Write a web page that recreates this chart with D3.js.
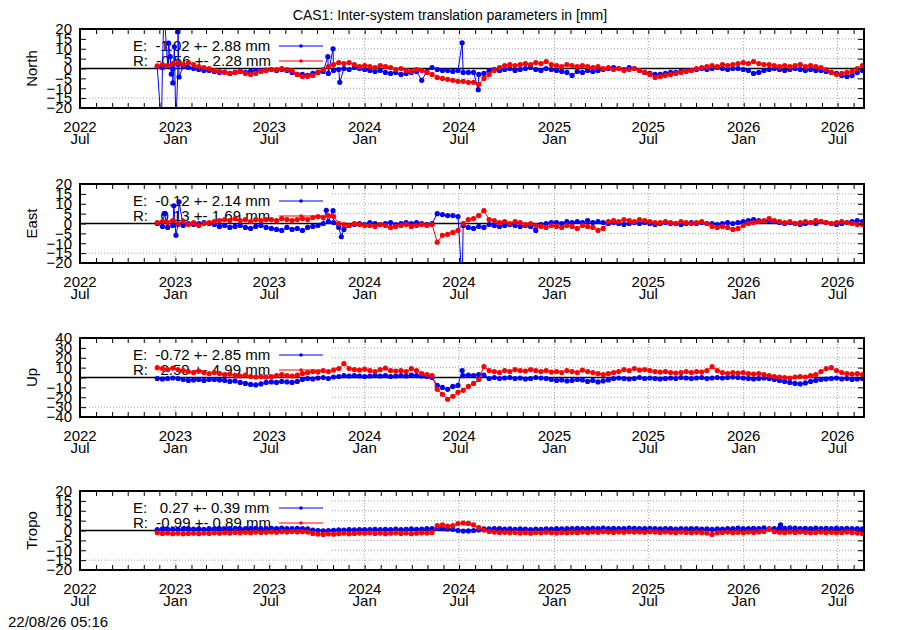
<!DOCTYPE html>
<html>
<head>
<meta charset="utf-8">
<script src="https://cdn.jsdelivr.net/npm/d3@7"></script>
<style>
  body { margin: 0; background: #fff; }
  svg { font-family: "Liberation Sans", Arial, sans-serif; }
  text { white-space: pre; }
</style>
</head>
<body>
<div id="chart"></div>
<script>
// one sample every 10 days starting 2022-11-27
const northE = [
  1, 0.5, 1.5, 0, 2, 1, 0.5, 0, -0.5, -1,
  -1, -1.5, -2, -1.8, -2.5, -2, -1.5, -2, -1.5, -1,
  -1.2, -0.8, -0.5, -1, -0.5, -1, -2, -3, -3, -3.5,
  -2.5, -2, -1.5, -2.5, -1, -0.5, 0, -0.5, 0.5, 0,
  -0.5, -1, -1.5, -1, -2, -2.5, -2, -3, -2.5, -2,
  -1.5, -6, -1.5, 0.5, -0.5, -1, -1, -1.5, -1, -2,
  -2, -2, -3, -2.5, -1, -0.5, -1, -0.5, 0, -1,
  -0.5, 0, 0.5, -0.5, -1, 0, -0.5, -1, -1.5, -2,
  -3.5, -1.5, -2, -1, -1.5, -1, -0.5, 0, 0.5, 0,
  -0.5, 0.5, 0, -1, -2, -2.5, -3, -3, -2.5, -2,
  -2, -1.5, -1, -1, -0.5, 0, -0.5, 0, 0.5, 0,
  -0.5, 0, 0, -0.5, -1, -2.5, -2, -1, -0.5, 0,
  -0.5, -1, -0.5, 0, -0.5, -1, -0.5, -1, -1, -1.5,
  -2, -2.5, -3.5, -4, -3.5, -2, -1
];
const northR = [
  1.3, 2, 1.5, 2.5, 3, 2, 3, 2, 1, 0.5,
  0, -1, -1.5, -2, -2.5, -2, -1.5, -2.5, -3, -2.5,
  -1.5, -1, -0.5, -0.5, 0, -0.5, -1, -3, -4, -4,
  -3.5, -2, -0.5, 1, 2, 3, 2.5, 3, 2, 1,
  1.5, 1, 0.5, 1.5, 1, 0.5, -0.5, 0, -1, -1.5,
  -0.5, -1, -2, -3, -4.5, -5, -5.5, -6, -6.5, -6.5,
  -7, -7, -8, -5, -3, -1, 0.5, 1.5, 2, 1.5,
  2, 2.5, 2, 3, 2.5, 3.5, 2, 1.5, 1, 2,
  1.5, 1, 1.5, 1, 0.5, 1, 0, 0.5, -0.5, 0,
  -1, -0.5, 0, -1, -2, -3, -4.5, -4, -3.5, -3,
  -2.5, -2, -1.5, -1, 0, 0.5, 1, 1.5, 1, 2,
  1.5, 2, 2.5, 3, 2.5, 3.5, 2.5, 2, 2, 1.5,
  1, 1.5, 1, 1.5, 2, 1, 1.5, 1, 0.5, -0.5,
  -2, -3, -2.5, -2, -1.5, 0, 1.5
];
const northESpikes = [
  ['2022-12-05', -30], ['2022-12-10', 30], ['2022-12-19', 12.8], ['2022-12-22', 6],
  ['2022-12-24', -2.8], ['2022-12-27', -7.3], ['2022-12-30', 11], ['2023-01-02', -30],
  ['2023-01-06', 18.6], ['2023-01-08', -4.3], ['2023-10-22', 6], ['2023-11-01', 10],
  ['2023-11-14', -7], ['2024-07-07', 13], ['2024-08-07', -10.7]
];
const eastE = [
  0, -1.5, -2, -1, -0.5, -1, 0, -0.5, 0, 0.5,
  0, -0.5, -1.5, -1, -2, -1.5, -1, -2, -2.5, -1.5,
  -1, -2, -2.5, -3, -3.5, -2, -3, -2.5, -3.5, -2,
  -1.5, -1, 0, 1, 0.5, -2, -3, -1, -0.5, 0,
  -0.5, 0.5, 0, -0.5, 0, 0.5, -0.5, 0, 0.5, 0,
  0.5, 0, -0.5, 0, 5, 4.5, 4, 4, 3.5, -1,
  -2, -2.5, -1.5, -2, -0.5, -1, -1.5, -1, -0.5, -1,
  -1.5, -1, -1.5, -3.5, -0.5, 0, 0.5, 0.5, 0, 1,
  0.5, 1, 0.5, 1.5, 0.5, 1, 0.5, 0, 0.5, 0,
  -0.5, 0, 0.5, 0, 0.5, 0, -0.5, 0, 0.5, 0,
  0, -0.5, 0, 0.5, 0, 0.5, 0, 0, -0.5, 0,
  0.5, 0, 0.5, 1, 1.5, 2, 1.5, 1, 1.5, 1,
  0.5, 0, 0.5, 0, -0.5, 0, 0.5, 0, 1, 0.5,
  0, -0.5, 0, 0.5, 1, 1.5, 1
];
const eastR = [
  0.5, 1, 0.5, 1.5, 0, 1, -0.5, 0.5, -1, 0,
  0.5, 1, 1.5, 2, 1.5, 2.5, 1.5, 2, 1, 2,
  1.5, 2, 2, 1.5, 2.5, 2, 1.5, 2, 2.5, 2,
  3, 3.5, 3, 4, 3.5, 0, -0.5, -1, 0, -0.5,
  -1, -1, -1.5, -0.5, -1, -2, -1.5, -1, -0.5, -1.5,
  -1, -0.5, -1, -0.5, -9.5, -6, -5.5, -4.5, -3.5, 0,
  2, 2.5, 4, 6.5, 2, 1.5, 0.5, 1, 0, 1,
  0.5, -0.5, 0, -1, -1.5, -2, -1, -1.5, -2, -1,
  -1.5, -2.5, -1, -1.5, -2, -3.5, -2.5, 1, 1.5, 1,
  2, 1.5, 1, 2, 1.5, 1, 0.5, 0.5, 1, 0.5,
  0, 1, 0.5, 0, 0.5, 1, 0, -1.5, -2, -1.5,
  -2, -3, -2.5, -1, 0, 0.5, 1, 1.5, 2.5, 1.5,
  1, 0.5, 1, 0, 0.5, 1, 0.5, 1.5, 1, 0.5,
  0, 0.5, 1, 0.5, 0, -0.5, -0.5
];
const eastESpikes = [
  ['2022-12-11', 5], ['2022-12-29', 9], ['2023-01-02', -6], ['2023-01-08', 11],
  ['2023-10-19', 6.7], ['2023-11-01', 6.5], ['2023-11-17', -6.7], ['2024-07-07', -30]
];
const upE = [
  -1, -1.5, -1, -0.5, -1, -2, -3, -2.5, -2, -3,
  -2, -2, -2.5, -3, -4, -3.5, -5, -6, -7, -7.5,
  -6.5, -5, -4.5, -5, -4, -4.5, -5, -4, -2, -1,
  -1.5, -0.5, 0, -1, 0.5, 1, 2, 1.5, 2, 1.5,
  1, 1.5, 2, 1.5, 2, 1, 1.5, 2, 1.5, 2.5,
  2, 1.5, 1, 0, -8, -10, -12, -9, -8, 2,
  2.5, 2, 3, 2.5, -1, 0, -1, -0.5, 0, -1,
  -0.5, -1.5, -1, 0, -0.5, -1, -2, -3, -2.5, -3.5,
  -3, -2, -2.5, -4, -3, -4.5, -3.5, -2.5, -1, -0.5,
  -1, -1.5, -1, 0, -1, -0.5, -1, -1.5, -1, -0.5,
  -1, 0, -0.5, -1, -0.5, 0, -1, -0.5, 0, -0.5,
  0, 0.5, 0, -0.5, -1, -1.5, -1, -0.5, -1, -2,
  -3, -4, -5, -6, -6.5, -5.5, -4, -3, -2, -1.5,
  -1, -0.5, -1.5, -1, -2, -1.5, -1
];
const upR = [
  10, 9, 8, 9.5, 8, 7, 6, 5, 6.5, 5,
  4, 5, 4, 3, 3.5, 2, 1.5, 2.5, 1, 0.5,
  1, 0.5, 1, 2, 3, 2, 1.5, 2.5, 4, 5,
  6, 5.5, 7, 6, 7.5, 9, 14, 9, 8, 7.5,
  8.5, 7, 6, 8, 9.5, 7, 6.5, 7, 6, 9,
  7, 4, 3, 2, -12, -17, -22, -19, -15, -13,
  -9, -6, -2, 11, 7, 6, 5, 7, 6, 8,
  7, 6.5, 8, 7, 6, 7, 5.5, 6, 5, 7,
  6, 5, 7.5, 6, 5, 4, 3, 4, 5, 6,
  8, 7, 9, 7.5, 8, 7, 6, 5.5, 6, 5,
  4.5, 5, 6, 5, 6, 5.5, 7, 11, 7, 5,
  4, 5, 4.5, 5, 4, 3.5, 4, 3, 2, 1,
  0.5, 0, -0.5, 0.5, 1, 0.5, 2, 3, 6, 9,
  10, 7, 5, 4, 3.5, 4, 3
];
const upESpikes = [['2024-07-07', 7]];
const tropoE = [
  0.5, 0.8, 0.6, 0.7, 0.5, 0.8, 0.9, 0.7, 0.8, 0.6,
  0.9, 0.8, 1, 0.8, 0.9, 1, 0.8, 1, 0.9, 1.1,
  1, 0.9, 1.1, 1, 1.2, 1, 0.9, 1.1, 1, 0.8,
  0.2, 0, -0.2, 0, 0.1, 0.3, 0.2, 0.4, 0.3, 0.5,
  0.4, 0.5, 0.6, 0.4, 0.6, 0.5, 0.7, 0.5, 0.6, 0.8,
  0.6, 0.7, 0.9, 1, 1.2, 1, 0.8, 0.6, 0, -0.3,
  -0.2, 0, 0.3, 0.8, 0.8, 1, 0.9, 0.7, 0.8, 0.6,
  0.8, 0.7, 0.5, 0.7, 0.6, 0.8, 0.7, 0.9, 0.8, 1,
  0.9, 1.1, 0.9, 1, 1.1, 1, 1.2, 1, 1.1, 0.9,
  1, 1.2, 1.1, 1, 0.9, 1.1, 1, 0.8, 1, 0.9,
  0.7, 0.9, 0.8, 1, 0.9, 0.7, 0.8, 0.6, 0.8, 0.7,
  0.9, 1, 1.2, 1, 0.9, 1.1, 1, 1.3, 0.8, 1,
  1.2, 1.1, 1.3, 1.2, 1, 1.1, 0.9, 1.2, 1, 1.1,
  0.9, 1.2, 1, 1.1, 0.9, 1, 0.8
];
const tropoR = [
  -1.2, -1.5, -1.3, -1.6, -1.4, -1.7, -1.5, -1.4, -1.6, -1.3,
  -1.5, -1.2, -1.4, -1.1, -1.3, -1, -1.2, -0.9, -1.1, -0.8,
  -1, -0.9, -0.7, -0.9, -0.6, -0.8, -0.5, -0.7, -0.6, -0.8,
  -1.5, -1.8, -2, -1.7, -1.9, -1.6, -1.4, -1.7, -1.5, -1.3,
  -1.4, -1.2, -1.5, -1.3, -1.6, -1.4, -1.2, -1.5, -1.3, -1.6,
  -1.4, -1.2, -1.3, -1, 2.5, 2.8, 2.2, 2.5, 3.5, 3.8,
  3.6, 2.8, 1.5, 0.2, -0.5, -0.8, -1, -0.9, -1.2, -1,
  -1.3, -1.1, -1.4, -1, -1.2, -0.9, -1.1, -1.3, -1, -1.2,
  -0.9, -1.1, -0.8, -1, -0.7, -0.9, -0.6, -0.8, -1, -0.7,
  -0.9, -0.6, -0.8, -0.7, -0.9, -0.6, -0.8, -1, -0.7, -0.9,
  -1.1, -0.8, -1, -1.2, -0.9, -1.1, -1.3, -2, -1.2, -1,
  -0.8, -1.1, -0.9, -1.2, -0.8, -1, -0.7, -0.5, 0.8, -0.6,
  -0.9, -1.1, -0.8, -1, -0.7, -0.9, -1.2, -1, -0.8, -1.1,
  -0.9, -1.2, -1, -0.8, -1.1, -1.3, -1.5
];
const tropoESpikes = [['2026-03-13', 2.9]];

const panelNames = ['North', 'East', 'Up', 'Tropo'];
const panelLimits = [20, 20, 40, 20];
const panelSteps = [5, 5, 10, 5];
const statsE = [[-1.02, 2.88], [-0.12, 2.14], [-0.72, 2.85], [0.27, 0.39]];
const statsR = [[-0.56, 2.28], [0.13, 1.69], [2.59, 4.99], [-0.99, 0.89]];
const seriesE = [northE, eastE, upE, tropoE];
const seriesR = [northR, eastR, upR, tropoR];
const spikesE = [northESpikes, eastESpikes, upESpikes, tropoESpikes];

const width = 900, height = 630;
const left = 80, right = 864, panelH = 79;
const panelTops = [29, 184, 338, 491];
const start = Date.UTC(2022, 10, 27);
const blue = '#0000ff', red = '#ff0000';

const x = d3.scaleUtc()
  .domain([new Date(Date.UTC(2022, 6, 1)), new Date(Date.UTC(2026, 7, 21))])
  .range([left, right]);
const months = d3.utcMonth.range(x.domain()[0], x.domain()[1]);
const majors = months.filter(d => d.getUTCMonth() % 6 === 0);

function toPoints(vals, spikes) {
  const pts = vals.map((v, i) => ({ date: new Date(start + i * 10 * 864e5), value: v }));
  (spikes || []).forEach(s => pts.push({ date: new Date(s[0] + 'T00:00:00Z'), value: s[1] }));
  return pts.sort((a, b) => a.date - b.date);
}

const svg = d3.select('#chart').append('svg')
  .attr('width', width).attr('height', height);

svg.append('text')
  .attr('x', 450).attr('y', 20)
  .attr('text-anchor', 'middle')
  .attr('font-size', 14)
  .text('CAS1: Inter-system translation parameters in [mm]');

svg.append('text')
  .attr('x', 8).attr('y', 627)
  .attr('font-size', 15)
  .text('22/08/26 05:16');

function fmt(v) {
  const s = v.toFixed(2);
  return ' '.repeat(Math.max(0, 6 - s.length)) + s;
}

panelNames.forEach((name, k) => {
  const top = panelTops[k], bottom = top + panelH;
  const lim = panelLimits[k], step = panelSteps[k];
  const y = d3.scaleLinear().domain([-lim, lim]).range([bottom, top]);
  const yTicks = d3.range(-lim, lim + step / 2, step);
  const g = svg.append('g');

  g.append('clipPath').attr('id', 'clip' + k)
    .append('rect').attr('x', left).attr('y', top).attr('width', right - left).attr('height', panelH);

  // grid
  g.selectAll('.hgrid').data(yTicks.filter(t => Math.abs(t) !== lim && t !== 0))
    .join('line')
    .attr('x1', left).attr('x2', right)
    .attr('y1', d => y(d)).attr('y2', d => y(d))
    .attr('stroke', '#a0a0a0').attr('stroke-dasharray', '1,2');
  g.selectAll('.vgrid').data(majors.filter(d => x(d) > left + 1))
    .join('line')
    .attr('x1', d => x(d)).attr('x2', d => x(d))
    .attr('y1', top).attr('y2', bottom)
    .attr('stroke', '#a0a0a0').attr('stroke-dasharray', '1,2');

  // opaque key area
  g.append('rect')
    .attr('x', left + 1).attr('y', top + 1)
    .attr('width', 332 - left - 1).attr('height', 66)
    .attr('fill', '#fff');

  // zero line
  g.append('line')
    .attr('x1', left).attr('x2', right)
    .attr('y1', y(0)).attr('y2', y(0))
    .attr('stroke', '#000').attr('stroke-width', 1.5);

  // key
  [['E', statsE[k], blue, 17], ['R', statsR[k], red, 32]].forEach(([lab, st, col, dy]) => {
    g.append('text')
      .attr('x', 133).attr('y', top + dy)
      .attr('dy', '0.35em')
      .attr('font-size', 15)
      .text(lab + ': ' + fmt(st[0]) + ' +- ' + st[1].toFixed(2) + ' mm');
    g.append('line')
      .attr('x1', 279).attr('x2', 323)
      .attr('y1', top + dy).attr('y2', top + dy)
      .attr('stroke', col).attr('stroke-width', 1);
    g.append('circle')
      .attr('cx', 301).attr('cy', top + dy).attr('r', 1.8)
      .attr('fill', col);
  });

  // data
  const line = d3.line().x(d => x(d.date)).y(d => y(d.value));
  const plot = g.append('g').attr('clip-path', `url(#clip${k})`);
  [[toPoints(seriesE[k], spikesE[k]), blue], [toPoints(seriesR[k], []), red]].forEach(([pts, col]) => {
    plot.append('path').datum(pts)
      .attr('d', line)
      .attr('fill', 'none')
      .attr('stroke', col).attr('stroke-width', 1);
    plot.selectAll(null).data(pts).join('circle')
      .attr('cx', d => x(d.date)).attr('cy', d => y(d.value))
      .attr('r', 2.6).attr('fill', col);
  });

  // axes with inward ticks
  const axL = g.append('g').attr('transform', `translate(${left},0)`)
    .call(d3.axisLeft(y).tickValues(yTicks).tickSizeInner(-6).tickSizeOuter(0).tickPadding(8));
  const axR = g.append('g').attr('transform', `translate(${right},0)`)
    .call(d3.axisRight(y).tickValues(yTicks).tickSizeInner(-6).tickSizeOuter(0).tickFormat(''));
  const axB = g.append('g').attr('transform', `translate(0,${bottom})`)
    .call(d3.axisBottom(x).tickValues(months).tickSizeInner(-5).tickSizeOuter(0).tickFormat(''));
  const axT = g.append('g').attr('transform', `translate(0,${top})`)
    .call(d3.axisTop(x).tickValues(months).tickSizeInner(-5).tickSizeOuter(0).tickFormat(''));
  [axL, axR, axB, axT].forEach(a => {
    a.attr('font-family', null);
    a.select('.domain').remove();
    a.selectAll('line').attr('stroke', '#000');
    a.selectAll('text').attr('font-size', 15).attr('fill', '#000');
  });

  // frame
  g.append('rect')
    .attr('x', left).attr('y', top)
    .attr('width', right - left).attr('height', panelH)
    .attr('fill', 'none').attr('stroke', '#000').attr('stroke-width', 2);

  // date labels
  const lbl = g.selectAll('.xl').data(majors).join('text')
    .attr('text-anchor', 'middle')
    .attr('font-size', 15);
  lbl.append('tspan').attr('x', d => x(d)).attr('y', bottom + 24).text(d => d3.utcFormat('%Y')(d));
  lbl.append('tspan').attr('x', d => x(d)).attr('y', bottom + 36).text(d => d3.utcFormat('%b')(d));

  g.append('text')
    .attr('transform', `translate(32,${(top + bottom) / 2}) rotate(-90)`)
    .attr('text-anchor', 'middle')
    .attr('dy', '0.35em')
    .attr('font-size', 15)
    .text(name);
});
</script>
</body>
</html>
